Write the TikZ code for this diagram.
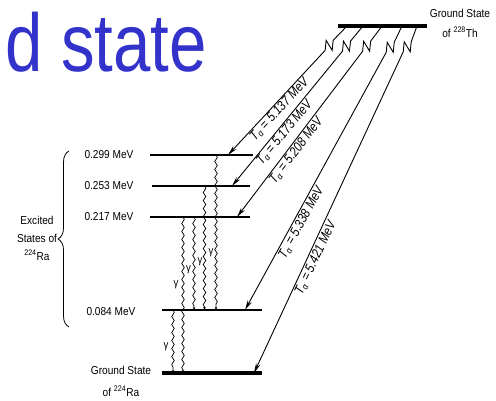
\documentclass[tikz,border=0pt]{standalone}
\usepackage{fontspec}
\setmainfont{Liberation Sans}
\newfontfamily\titlefont[FakeStretch=0.82]{Liberation Sans}
\newfontfamily\diag[FakeStretch=0.88]{Liberation Sans}
\newfontfamily\labfont[FakeStretch=0.84]{Liberation Sans}
\usetikzlibrary{calc,arrows.meta,decorations.pathmorphing,decorations.pathreplacing}
\definecolor{titleblue}{RGB}{51,51,204}

\begin{document}
\begin{tikzpicture}[x=1pt,y=-1pt,
  level/.style={line width=1.1pt},
  bar/.style={line width=4pt},
  alphaline/.style={line width=0.9pt,-{Stealth[length=10pt,width=4.5pt]}},
  gammaline/.style={line width=0.7pt,decorate,
    decoration={snake,amplitude=1.3pt,segment length=8pt,post length=2.5pt},
    -{Stealth[length=3pt,width=2.5pt]}},
  lvltext/.style={font=\diag\fontsize{11.5}{12}\selectfont,inner sep=0pt},
  alphatext/.style={font=\labfont\itshape\fontsize{13.5}{14}\selectfont,inner sep=1pt},
  gammatext/.style={font=\diag\fontsize{11}{11}\selectfont,inner sep=0pt}
]
\useasboundingbox (0,0) rectangle (496,401);

% title fragment
\node[anchor=base west,inner sep=0pt,text=titleblue,
      font=\titlefont\fontsize{82}{82}\selectfont] (title) at (5,72) {d state};

% ground state of Th-228
\draw[bar] (338,26) coordinate (thL) -- (427,26) coordinate (thR);
\node[lvltext,align=center,font=\diag\fontsize{11.5}{20}\selectfont] (thlabel) at (460,23)
  {Ground State\\of \textsuperscript{228}Th};

% levels of Ra-224
\draw[level] (150,155) coordinate (l299L) -- (253,155) coordinate (l299R);
\draw[level] (152,186) coordinate (l253L) -- (250,186) coordinate (l253R);
\draw[level] (150,217) coordinate (l217L) -- (250,217) coordinate (l217R);
\draw[level] (162,310) coordinate (l084L) -- (262,310) coordinate (l084R);
\draw[bar]   (162,373) coordinate (l0L) -- (262,373) coordinate (l0R);

\node[lvltext] (t299) at (109,155) {0.299 MeV};
\node[lvltext] (t253) at (109,186) {0.253 MeV};
\node[lvltext] (t217) at (109,217) {0.217 MeV};
\node[lvltext] (t084) at (111,312) {0.084 MeV};
\node[lvltext,align=center,font=\diag\fontsize{11.5}{22}\selectfont] (ralabel) at (121,381)
  {Ground State\\of \textsuperscript{224}Ra};

% brace over the excited states
\coordinate (brtop) at (69,151);
\coordinate (brbot) at (69,327);
\draw[line width=0.8pt,decorate,decoration={brace,amplitude=11pt}] (brbot) -- (brtop);
\node[lvltext,align=center,font=\diag\fontsize{11.5}{18}\selectfont] (exc) at (37,238)
  {Excited\\States of\\\textsuperscript{224}Ra};

% alpha decay branches
\coordinate (th1) at (347,26);  \coordinate (a1) at (228,155);
\coordinate (th2) at (363,26);  \coordinate (a2) at (232,186);
\coordinate (th3) at (382,26);  \coordinate (a3) at (237,217);
\coordinate (th4) at (402,26);  \coordinate (a4) at (245,310);
\coordinate (th5) at (417,26);  \coordinate (a5) at (254,373);

\coordinate (z1) at ($(a1)!0.85!(th1)$);
\coordinate (z2) at ($(a2)!0.874!(th2)$);
\coordinate (z3) at ($(a3)!0.894!(th3)$);
\coordinate (z4) at ($(a4)!0.925!(th4)$);
\coordinate (z5) at ($(a5)!0.94!(th5)$);

\foreach \i in {1,...,5}{
  \draw[alphaline] (th\i) -- ([shift={(4,-5)}]z\i) -- ([shift={(3,5)}]z\i)
    -- ([shift={(-3,-5)}]z\i) -- ([shift={(-4,5)}]z\i) -- (a\i);
}

\path (a1) -- (th1) node[alphatext,sloped,below,pos=0.39] (e1) {T\textsubscript{α} = 5.137 MeV};
\path (a2) -- (th2) node[alphatext,sloped,below,pos=0.36] (e2) {T\textsubscript{α} = 5.173 MeV};
\path (a3) -- (th3) node[alphatext,sloped,below,pos=0.37] (e3) {T\textsubscript{α} = 5.208 MeV};
\path (a4) -- (th4) node[alphatext,sloped,below,pos=0.32] (e4) {T\textsubscript{α} = 5.338 MeV};
\path (a5) -- (th5) node[alphatext,sloped,below,pos=0.34] (e5) {T\textsubscript{α} = 5.421 MeV};

% gamma transitions
\coordinate (g1a) at (216,155);  \coordinate (g1b) at (216,310);
\coordinate (g2a) at (204.5,186);\coordinate (g2b) at (204.5,310);
\coordinate (g3a) at (194,217);  \coordinate (g3b) at (194,310);
\coordinate (g4a) at (183,217);  \coordinate (g4b) at (183,373);
\coordinate (g5a) at (173,310);  \coordinate (g5b) at (173,373);
\foreach \i in {1,...,5}{ \draw[gammaline] (g\i a) -- (g\i b); }

\node[gammatext] (gl1) at (211,253) {γ};
\node[gammatext] (gl2) at (200,262) {γ};
\node[gammatext] (gl3) at (188.5,270) {γ};
\node[gammatext] (gl4) at (176,285) {γ};
\node[gammatext] (gl5) at (166,347) {γ};
\end{tikzpicture}
\end{document}
